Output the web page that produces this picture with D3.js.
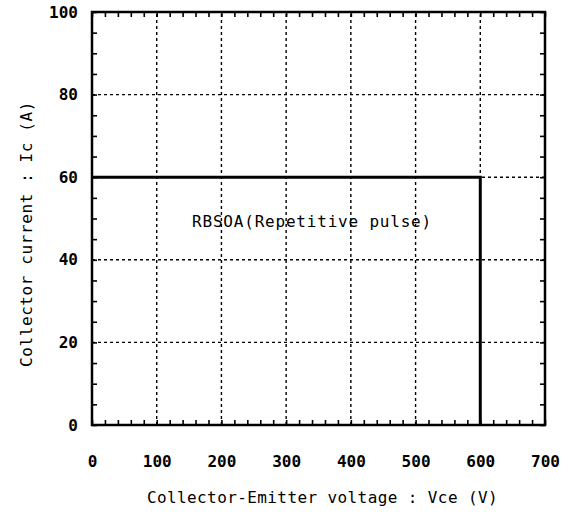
<!DOCTYPE html>
<html>
<head>
<meta charset="utf-8">
<script src="https://cdn.jsdelivr.net/npm/d3@7"></script>
<style>
  html, body { margin: 0; padding: 0; background: #fff; }
  svg text { font-family: "DejaVu Sans Mono", "Liberation Mono", monospace; fill: #000; }
</style>
</head>
<body>
<svg id="chart" width="577" height="515"></svg>
<script>
// ---- data ----
const xTickValues = [0, 100, 200, 300, 400, 500, 600, 700];
const yTickValues = [0, 20, 40, 60, 80, 100];
const xMinorStep = 20;
const yMinorStep = 5;
const soaVoltage = [0, 600, 600];
const soaCurrent = [60, 60, 0];
const annotationText = "RBSOA(Repetitive pulse)";
const annotationPos = [340, 49];
const xTitle = "Collector-Emitter voltage : Vce (V)";
const yTitle = "Collector current : Ic (A)";

// ---- layout ----
const mLeft = 92, mRight = 545, mTop = 12, mBottom = 425;
const svg = d3.select("#chart");
const x = d3.scaleLinear().domain([0, 700]).range([mLeft, mRight]);
const y = d3.scaleLinear().domain([0, 100]).range([mBottom, mTop]);

// grid
const grid = svg.append("g").attr("stroke", "#000").attr("stroke-width", 1.4)
  .attr("stroke-dasharray", "3,3").attr("fill", "none");
xTickValues.slice(1, -1).forEach(v => {
  grid.append("line").attr("x1", x(v)).attr("x2", x(v)).attr("y1", y(0)).attr("y2", y(100));
});
yTickValues.slice(1, -1).forEach(v => {
  grid.append("line").attr("x1", x(0)).attr("x2", x(700)).attr("y1", y(v)).attr("y2", y(v));
});

// minor ticks (inward) on all four sides
const xMinor = d3.range(0, 700 + 1e-9, xMinorStep);
const yMinor = d3.range(0, 100 + 1e-9, yMinorStep);
const tickLen = 5;
svg.append("g").attr("transform", `translate(0,${mBottom})`)
  .call(d3.axisBottom(x).tickValues(xMinor).tickSize(-tickLen).tickFormat(""))
  .call(g => g.select(".domain").remove())
  .selectAll("line").attr("stroke-width", 1.6);
svg.append("g").attr("transform", `translate(0,${mTop})`)
  .call(d3.axisTop(x).tickValues(xMinor).tickSize(-tickLen).tickFormat(""))
  .call(g => g.select(".domain").remove())
  .selectAll("line").attr("stroke-width", 1.6);
svg.append("g").attr("transform", `translate(${mLeft},0)`)
  .call(d3.axisLeft(y).tickValues(yMinor).tickSize(-tickLen).tickFormat(""))
  .call(g => g.select(".domain").remove())
  .selectAll("line").attr("stroke-width", 1.6);
svg.append("g").attr("transform", `translate(${mRight},0)`)
  .call(d3.axisRight(y).tickValues(yMinor).tickSize(-tickLen).tickFormat(""))
  .call(g => g.select(".domain").remove())
  .selectAll("line").attr("stroke-width", 1.6);

// tick labels
const xLab = svg.append("g").attr("transform", `translate(0,${mBottom})`)
  .call(d3.axisBottom(x).tickValues(xTickValues).tickSize(0).tickPadding(31).tickFormat(d3.format("d")));
xLab.select(".domain").remove();
xLab.selectAll("text").attr("font-size", 16).attr("font-weight", "bold")
  .style("font-family", '"DejaVu Sans Mono", monospace');

const yLab = svg.append("g").attr("transform", `translate(${mLeft},0)`)
  .call(d3.axisLeft(y).tickValues(yTickValues).tickSize(0).tickPadding(14).tickFormat(d3.format("d")));
yLab.select(".domain").remove();
yLab.selectAll("text").attr("font-size", 16).attr("font-weight", "bold")
  .style("font-family", '"DejaVu Sans Mono", monospace');

// frame
svg.append("rect").attr("x", mLeft).attr("y", mTop).attr("width", mRight - mLeft).attr("height", mBottom - mTop)
  .attr("fill", "none").attr("stroke", "#000").attr("stroke-width", 2.5);

// SOA boundary
const line = d3.line().x(d => x(d[0])).y(d => y(d[1]));
svg.append("path").datum(soaVoltage.map((v, i) => [v, soaCurrent[i]]))
  .attr("d", line).attr("fill", "none").attr("stroke", "#000").attr("stroke-width", 3);

// annotation
svg.append("text").attr("x", x(annotationPos[0])).attr("y", y(annotationPos[1]))
  .attr("text-anchor", "middle").attr("dominant-baseline", "middle")
  .attr("font-size", 16).attr("letter-spacing", 0.8).text(annotationText);

// axis titles
svg.append("text").attr("x", (mLeft + mRight) / 2 + 4).attr("y", 503)
  .attr("text-anchor", "middle").attr("font-size", 16).attr("letter-spacing", 0.4).text(xTitle);
svg.append("text").attr("transform", "translate(27,234) rotate(-90)")
  .attr("text-anchor", "middle").attr("dominant-baseline", "middle")
  .attr("font-size", 16).attr("letter-spacing", 0.6).text(yTitle);
</script>
</body>
</html>
